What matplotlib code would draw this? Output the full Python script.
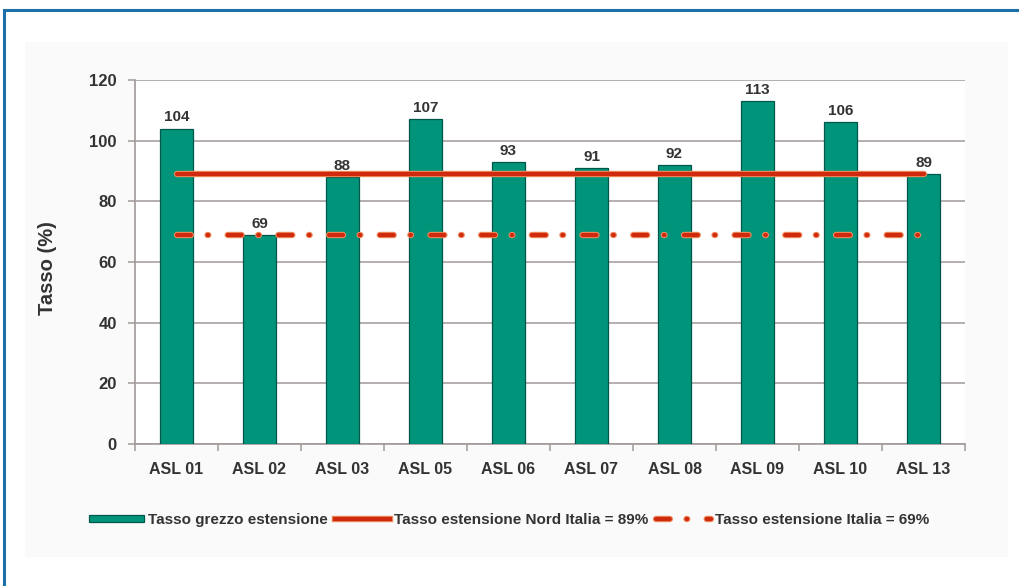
import matplotlib
matplotlib.use("Agg")
import matplotlib.pyplot as plt
import matplotlib.patheffects as pe
from matplotlib.patches import Rectangle, Patch
from matplotlib.lines import Line2D
from matplotlib import font_manager

# --- data ---
categories = ["ASL 01", "ASL 02", "ASL 03", "ASL 05", "ASL 06",
              "ASL 07", "ASL 08", "ASL 09", "ASL 10", "ASL 13"]
tasso_grezzo = [104, 69, 88, 107, 93, 91, 92, 113, 106, 89]
nord_italia = 89
italia = 69
y_ticks = [0, 20, 40, 60, 80, 100, 120]

legend_labels = ["Tasso grezzo estensione",
                 "Tasso estensione Nord Italia = 89%",
                 "Tasso estensione Italia = 69%"]

# --- style ---
TEAL = "#00957b"
TEAL_EDGE = "#00564a"
RED = "#cf2a0e"
HALO = "#ee8a5c"
TEXT = "#333333"
GRID = "#a09a98"
BLUE = "#1d6fa9"

installed = {f.name for f in font_manager.fontManager.ttflist}
main_font = "Liberation Sans" if "Liberation Sans" in installed else "DejaVu Sans"
narrow_font = "Liberation Sans Narrow" if "Liberation Sans Narrow" in installed else main_font

plt.rcParams["font.family"] = [main_font, "DejaVu Sans"]
plt.rcParams["lines.scale_dashes"] = False

fig = plt.figure(figsize=(10.19, 5.86), dpi=100)
fig.patch.set_facecolor("white")

# outer blue frame and faint inner panel, kept behind the axes
fig.add_artist(Rectangle((4 / 1019, -0.2), 1.2, 0.2 + 1 - 10 / 586,
                         transform=fig.transFigure, fill=False,
                         edgecolor=BLUE, linewidth=2.2, zorder=-2))
fig.add_artist(Rectangle((25 / 1019, 1 - 557 / 586), 983 / 1019, 515 / 586,
                         transform=fig.transFigure, facecolor="#fafafa",
                         edgecolor="none", zorder=-2))

ax = fig.add_axes([135 / 1019, 1 - 444 / 586, 830 / 1019, 364 / 586])
ax.set_zorder(1)
ax.set_facecolor("white")

x = list(range(len(categories)))
bars = ax.bar(x, tasso_grezzo, width=0.4, color=TEAL, edgecolor=TEAL_EDGE,
              linewidth=0.9, zorder=3)

for xi, v in zip(x, tasso_grezzo):
    ax.annotate(f"{v}", (xi, v), xytext=(0, 3), textcoords="offset points",
                ha="center", va="bottom", fontsize=11, fontweight="bold",
                color=TEXT, zorder=5)

halo = [pe.Stroke(linewidth=4.6, foreground=HALO), pe.Normal()]
ax.plot([x[0], x[-1]], [nord_italia] * 2, color=RED, linewidth=3,
        solid_capstyle="round", path_effects=halo, zorder=4)
dash_line, = ax.plot([x[0], x[-1]], [italia] * 2, color=RED, linewidth=3,
                     dash_capstyle="round", path_effects=halo, zorder=4)
dash_line.set_dashes((10, 12, 0.5, 14))

ax.set_xlim(-0.5, len(categories) - 0.5)
ax.set_ylim(0, 120)
ax.set_yticks(y_ticks)
ax.yaxis.grid(True, color=GRID, linewidth=1.1, zorder=0)
ax.set_axisbelow(True)

# category boundaries carry the tick marks, centres carry the labels
ax.set_xticks([i - 0.5 for i in range(len(categories) + 1)])
ax.set_xticklabels([])
ax.set_xticks(x, minor=True)
ax.set_xticklabels(categories, minor=True)
ax.tick_params(axis="x", which="major", length=5, width=1.1, color=GRID, direction="out")
ax.tick_params(axis="x", which="minor", length=0, pad=13, labelsize=11.5,
               labelcolor=TEXT)
ax.tick_params(axis="y", length=5, width=1.1, color=GRID, pad=8,
               labelsize=12, labelcolor=TEXT)
for lbl in ax.get_xticklabels(minor=True) + ax.get_yticklabels():
    lbl.set_fontweight("bold")

for side in ("top", "right"):
    ax.spines[side].set_visible(False)
for side in ("left", "bottom"):
    ax.spines[side].set_color(GRID)
    ax.spines[side].set_linewidth(1.2)

ax.set_ylabel("Tasso (%)", fontsize=14.5, fontweight="bold", color=TEXT)
ax.yaxis.set_label_coords(-78 / 830, 0.483)

# legend
h_bar = Patch(facecolor=TEAL, edgecolor=TEAL_EDGE, linewidth=0.9)
h_nord = Line2D([], [], color=RED, linewidth=3, path_effects=halo)
h_ita = Line2D([], [], color=RED, linewidth=3, dash_capstyle="round", path_effects=halo)
h_ita.set_dashes((10, 12, 0.5, 14))
leg = fig.legend([h_bar, h_nord, h_ita], legend_labels, loc="center",
                 bbox_to_anchor=(509 / 1019, 1 - 520 / 586), ncol=3,
                 frameon=False, handlelength=3.6, handleheight=0.4,
                 handletextpad=0.25, columnspacing=0.5,
                 prop={"family": [narrow_font, "DejaVu Sans"], "weight": "bold", "size": 11})
for t in leg.get_texts():
    t.set_color(TEXT)

fig.savefig("out.png", dpi=100)
